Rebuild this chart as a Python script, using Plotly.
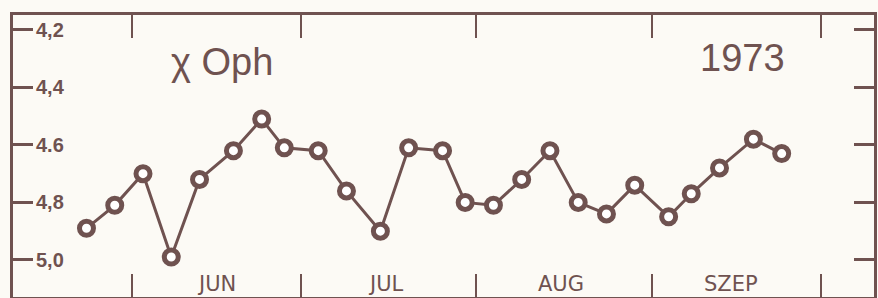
import plotly.graph_objects as go

# Observation dates (1973) and visual magnitudes of chi Oph
dates = ["1973-05-24", "1973-05-29", "1973-06-03", "1973-06-08", "1973-06-13",
         "1973-06-19", "1973-06-24", "1973-06-28", "1973-07-04", "1973-07-09",
         "1973-07-15", "1973-07-20", "1973-07-26", "1973-07-30", "1973-08-04",
         "1973-08-09", "1973-08-14", "1973-08-19", "1973-08-24", "1973-08-29",
         "1973-09-04", "1973-09-08", "1973-09-13", "1973-09-19", "1973-09-24"]
mags = [4.89, 4.81, 4.70, 4.99, 4.72,
        4.62, 4.51, 4.61, 4.62, 4.76,
        4.90, 4.61, 4.62, 4.80, 4.81,
        4.72, 4.62, 4.80, 4.84, 4.74,
        4.85, 4.77, 4.68, 4.58, 4.63]

# Axis ticks
mag_ticks = [4.2, 4.4, 4.6, 4.8, 5.0]
mag_labels = ["4,2", "4,4", "4.6", "4,8", "5,0"]
month_bounds = ["1973-06-01", "1973-07-01", "1973-08-01", "1973-09-01", "1973-10-01"]
month_mids = ["1973-06-16", "1973-07-16", "1973-08-16", "1973-09-15"]
month_names = ["JUN", "JUL", "AUG", "SZEP"]

INK = "#6f5250"
PAPER = "#fcfaf5"
FONT = "Liberation Sans, Arial, sans-serif"

fig = go.Figure()
fig.add_trace(go.Scatter(
    x=dates, y=mags, mode="lines+markers",
    line=dict(color=INK, width=3),
    marker=dict(size=14, color="white", line=dict(color=INK, width=5)),
    showlegend=False, hoverinfo="skip",
))

for xm, name in zip(month_mids, month_names):
    fig.add_annotation(x=xm, y=0.045, xref="x", yref="paper", yanchor="middle",
                       text=name, showarrow=False,
                       font=dict(family="DejaVu Sans", size=21, color=INK))

fig.add_annotation(x="1973-06-17", y=4.31, xref="x", yref="y", text="χ Oph",
                   showarrow=False, font=dict(family=FONT, size=38, color=INK))
fig.add_annotation(x="1973-09-17", y=4.297, xref="x", yref="y", text="1973",
                   showarrow=False, font=dict(family=FONT, size=38, color=INK))

fig.update_xaxes(
    type="date", range=["1973-05-11", "1973-10-10 08:00"],
    tickmode="array", tickvals=month_bounds, showticklabels=False,
    ticks="inside", ticklen=23, tickwidth=2, tickcolor=INK,
    showline=True, linecolor=INK, linewidth=3, mirror="ticks",
    showgrid=False, zeroline=False,
)
fig.update_yaxes(
    range=[5.129, 4.148],
    tickmode="array", tickvals=mag_ticks, ticktext=mag_labels,
    ticks="inside", ticklen=20, tickwidth=3, tickcolor=INK,
    ticklabelposition="inside", ticklabelstandoff=4,
    tickfont=dict(family=FONT, size=20, color=INK, weight="bold"),
    showline=True, linecolor=INK, linewidth=3, mirror="ticks",
    showgrid=False, zeroline=False,
)
fig.update_layout(
    width=878, height=298,
    margin=dict(l=13, r=1, t=15, b=1),
    paper_bgcolor=PAPER, plot_bgcolor=PAPER,
)
fig.write_html("out.html", config={"displayModeBar": False},
               post_script="document.body.style.margin='0';document.body.style.background='%s';" % PAPER)
